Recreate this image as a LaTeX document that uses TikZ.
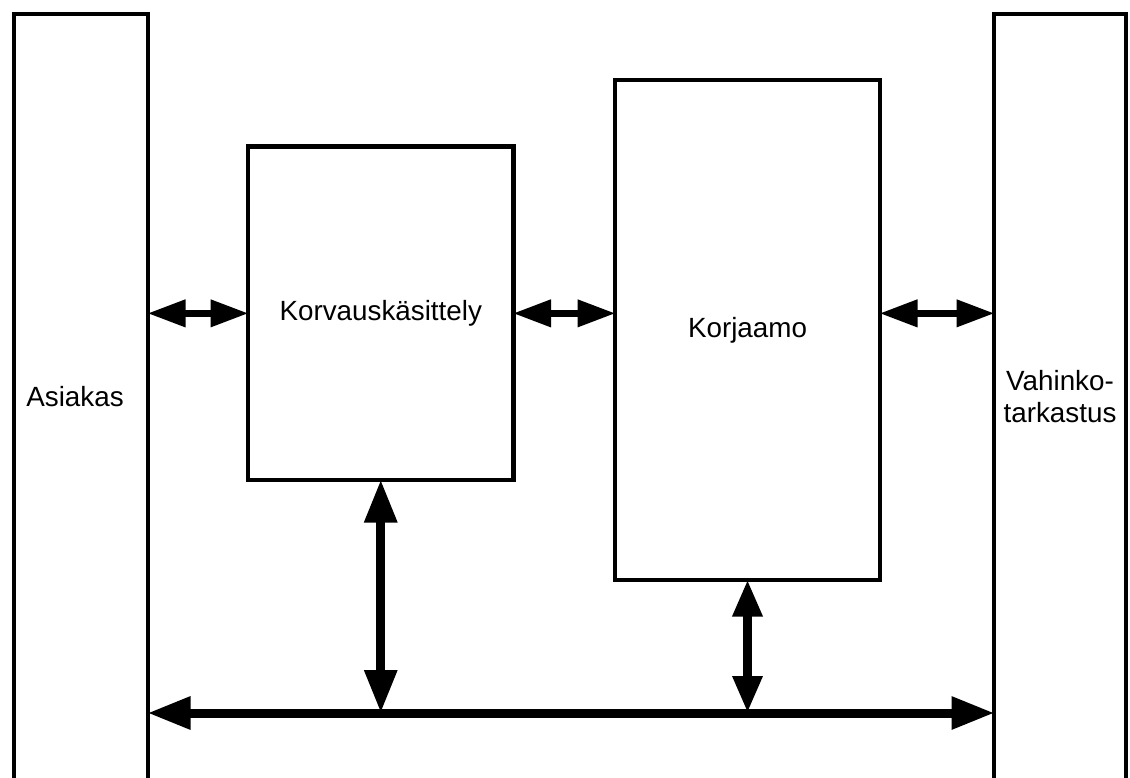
\documentclass[tikz,border=0pt]{standalone}
\usepackage{fontspec}
\setmainfont{Liberation Sans}
\usetikzlibrary{arrows.meta}
\begin{document}
\begin{tikzpicture}[x=1pt,y=-1pt,
  txt/.style={font=\fontsize{27.8}{32}\selectfont, align=center},
  box/.style={draw, line width=4.5pt, inner sep=0pt, outer sep=0pt, txt},
  harr/.style={line width=7pt, shorten <=-0.5pt, shorten >=-0.5pt, {Triangle[length=38pt,width=26pt]}-{Triangle[length=38pt,width=26pt]}},
  varr/.style={line width=9pt, shorten <=-0.5pt, {Triangle[length=43pt,width=31pt]}-{Triangle[length=43pt,width=31pt]}},
  varrs/.style={line width=9pt, shorten <=-0.5pt, {Triangle[length=37pt,width=28pt]}-{Triangle[length=37pt,width=28pt]}},
  barr/.style={line width=9pt, shorten <=-0.5pt, shorten >=-0.5pt, {Triangle[length=43pt,width=31pt]}-{Triangle[length=43pt,width=31pt]}}
]
\clip (0,0) rectangle (1130,778);
\fill[white] (0,0) rectangle (1130,778);
\node[box, minimum width=134pt, minimum height=786pt,
  label={[txt, xshift=-6pt, yshift=10pt]center:Asiakas}] (asiakas) at (81,407) {};
\node[box, minimum width=132pt, minimum height=786pt,
  label={[txt, yshift=10pt]center:Vahinko-\\tarkastus}] (vahinko) at (1060,407) {};
\node[box, minimum width=265.5pt, minimum height=333.3pt] (korvaus) at (380.75,313.35) {Korvauskäsittely};
\node[box, minimum width=265pt, minimum height=500pt] (korjaamo) at (747.5,330) {Korjaamo};
\coordinate (bus) at (0,713);
\draw[harr] (asiakas.east |- korvaus.center) -- (korvaus.west);
\draw[harr] (korvaus.east) -- (korvaus.east -| korjaamo.west);
\draw[harr] (korjaamo.east |- korvaus.east) -- (vahinko.west |- korvaus.east);
\draw[varr] (korvaus.south) -- (korvaus.south |- bus);
\draw[varrs] (korjaamo.south) -- (korjaamo.south |- bus);
\draw[barr] (asiakas.east |- bus) -- (vahinko.west |- bus);
\end{tikzpicture}
\end{document}
